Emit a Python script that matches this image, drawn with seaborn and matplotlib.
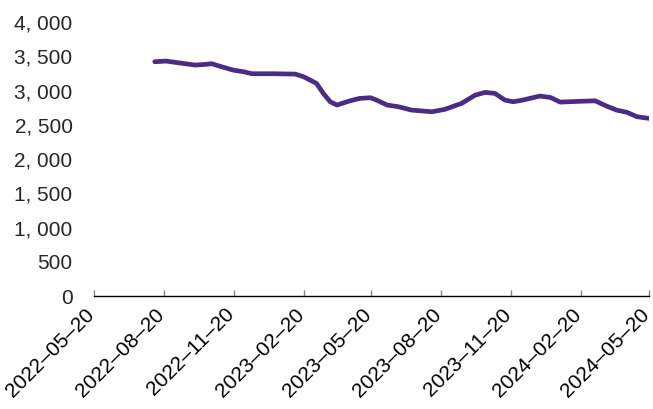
import matplotlib
matplotlib.use("Agg")
import matplotlib.pyplot as plt
import matplotlib.dates as mdates
import matplotlib.ticker as mticker
import matplotlib.transforms as mtransforms
import seaborn as sns
import pandas as pd

sns.set_style("white")
plt.rcParams["font.family"] = ["Liberation Sans", "DejaVu Sans"]

dates = [
    "2022-08-08", "2022-08-23", "2022-09-08", "2022-09-30", "2022-10-13",
    "2022-10-22", "2022-11-04", "2022-11-19", "2022-12-03", "2022-12-14",
    "2023-01-11", "2023-02-09", "2023-02-20", "2023-03-09", "2023-03-18",
    "2023-03-27", "2023-04-05", "2023-04-22", "2023-05-05", "2023-05-19",
    "2023-05-27", "2023-06-10", "2023-06-25", "2023-07-12", "2023-08-08",
    "2023-08-25", "2023-09-16", "2023-10-04", "2023-10-17", "2023-10-30",
    "2023-11-12", "2023-11-23", "2023-12-05", "2023-12-28", "2024-01-11",
    "2024-01-24", "2024-02-15", "2024-03-10", "2024-03-25", "2024-04-07",
    "2024-04-21", "2024-05-04", "2024-05-20",
]
values = [
    3421, 3431, 3406, 3373, 3382,
    3392, 3348, 3300, 3275, 3246,
    3246, 3241, 3202, 3105, 2959,
    2837, 2789, 2851, 2886, 2896,
    2862, 2789, 2764, 2716, 2691,
    2726, 2813, 2934, 2974, 2959,
    2862, 2837, 2860, 2920, 2900,
    2832, 2842, 2851, 2774, 2716,
    2682, 2619, 2594,
]
tick_dates = pd.date_range("2022-05-20", "2024-05-20", freq=pd.DateOffset(months=3))

df = pd.DataFrame({"date": pd.to_datetime(dates), "value": values})

fig = plt.figure(figsize=(6.53, 4.09), dpi=100)
ax = fig.add_axes([0.144, 0.276, 0.85, 0.67])
sns.lineplot(data=df, x="date", y="value", ax=ax, color="#4b2c85", linewidth=3.4,
             solid_joinstyle="round", solid_capstyle="round")

ax.set_xlim(tick_dates[0], tick_dates[-1])
ax.set_ylim(0, 4000)
ax.set_xticks(tick_dates)
ax.xaxis.set_major_formatter(mdates.DateFormatter("%Y–%m–%d"))
ax.yaxis.set_major_locator(mticker.MultipleLocator(500))
ax.yaxis.set_major_formatter(mticker.FuncFormatter(lambda v, p: f"{int(v):,}".replace(",", ", ")))
ax.set_xlabel("")
ax.set_ylabel("")

for s in ["top", "right", "left"]:
    ax.spines[s].set_visible(False)
ax.spines["bottom"].set_color("black")
ax.spines["bottom"].set_linewidth(1)
ax.tick_params(axis="x", bottom=True, direction="in", length=4, width=1,
               colors="#888888", labelcolor="black", labelsize=15, pad=11)
ax.tick_params(axis="y", left=False, labelsize=15, pad=12)
# nudge the rotated date labels a little left so the last one stays inside
shift = mtransforms.ScaledTranslation(-2.5 / 100, 0, fig.dpi_scale_trans)
for lbl in ax.get_xticklabels():
    lbl.set_rotation(45)
    lbl.set_ha("right")
    lbl.set_va("center")
    lbl.set_rotation_mode("anchor")
    lbl.set_transform(lbl.get_transform() + shift)

fig.savefig("out.png", dpi=100)
